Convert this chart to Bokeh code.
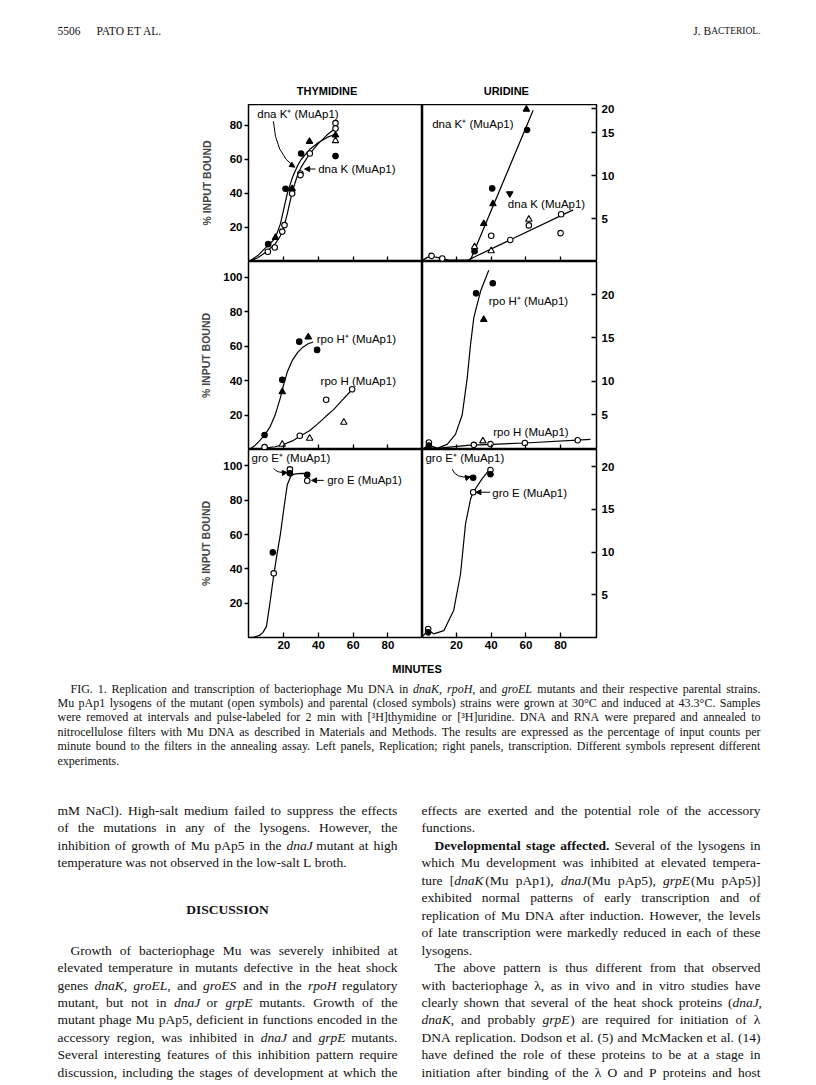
from bokeh.plotting import figure
from bokeh.models import Range1d, FixedTicker, Arrow, NormalHead
from bokeh.layouts import column, row
from bokeh.embed import file_html
from bokeh.resources import INLINE
from bokeh.core.properties import value

SANS = "Liberation Sans"
SERIF = "Liberation Serif"

# ---------------- data ----------------
x_ticks = [20, 40, 60, 80]
left_ticks_top = [20, 40, 60, 80]
left_ticks = [20, 40, 60, 80, 100]
right_labels = ["5", "10", "15", "20"]
right_ticks_top = [5, 10, 15, 17.8]
right_ticks_mid = [4.49, 8.84, 14.45, 20.0]
right_ticks_bot = [5, 10, 15, 20]

# Panel A: thymidine, dnaK
A_fc_x = [11.0, 21.0, 30.0, 49.8]; A_fc_y = [10.2, 42.8, 63.5, 62.0]
A_ft_x = [15.2, 24.8, 34.8, 49.8]; A_ft_y = [14.1, 42.8, 70.6, 74.3]
A_oc_x = [10.8, 14.8, 19.1, 20.4, 24.8, 29.6, 29.6, 35.0, 49.8, 49.8]
A_oc_y = [5.7, 8.2, 17.6, 21.4, 40.0, 51.8, 50.8, 63.5, 81.4, 78.2]
A_ot_x = [49.8]; A_ot_y = [71.0]
A_curve_x = [0, 5, 10, 15, 18, 20, 22, 25, 28, 30, 35, 40, 45, 50]
A_plus_y = [0, 3.5, 8.6, 13.5, 22, 31, 40, 49.5, 56.5, 60, 66, 70, 73, 75]
A_mut_y = [0, 2.2, 5.7, 10.4, 15, 20, 28, 41.6, 51, 55.5, 63.5, 69.5, 74.5, 78.5]

# Panel B: uridine, dnaK
B_fc_x = [30.4, 40.6, 60.7]; B_fc_y = [1.2, 8.5, 15.3]
B_ft_x = [35.7, 41.0, 60.3]; B_ft_y = [4.4, 6.7, 17.7]
B_fi_x = [50.7]; B_fi_y = [7.9]
B_oc_x = [5.6, 11.8, 40.0, 51.0, 61.7, 80.3, 80.0]
B_oc_y = [0.66, 0.35, 3.0, 2.5, 4.2, 5.5, 3.3]
B_ot_x = [30.4, 40.0, 61.7]; B_ot_y = [1.7, 1.24, 4.9]
B_base_x = [0, 3, 5.6, 8, 11.8, 15, 20, 27]
B_base_y = [0.1, 0.45, 0.66, 0.5, 0.33, 0.2, 0.16, 0.16]
B_plus_x = [27, 28.5, 30.4, 64.2]; B_plus_y = [0.16, 0.4, 1.3, 17.6]
B_mut_x = [27, 30, 87.2]; B_mut_y = [0.16, 0.5, 6.0]

# Panel C: thymidine, rpoH
C_fc_x = [8.9, 19.1, 28.9, 39.2]; C_fc_y = [8.4, 40.5, 62.7, 57.9]
C_ft_x = [19.1, 34.1]; C_ft_y = [33.5, 65.4]
C_oc_x = [8.9, 29.2, 44.4, 59.4]; C_oc_y = [1.4, 8.0, 28.9, 35.0]
C_ot_x = [19.1, 34.9, 54.6]; C_ot_y = [3.0, 6.5, 15.8]
C_plus_x = [0, 3, 6, 9, 12, 15, 18, 20, 22, 25, 28, 31, 34, 37]
C_plus_y = [0, 2, 5, 8.5, 13, 20, 30, 38, 45, 52, 56.5, 59.5, 61.5, 62.5]
C_mut_x = [0, 5, 10, 15, 19, 25, 29.6, 35, 39.2, 44, 48.8, 54, 59.4]
C_mut_y = [0, 0.4, 0.9, 1.6, 2.6, 5, 7.8, 11, 14.6, 19, 23.3, 29, 34.9]

# Panel D: uridine, rpoH
D_fc_x = [4.1, 31.3, 40.9]; D_fc_y = [0.5, 20.2, 21.5]
D_ft_x = [35.7]; D_ft_y = [16.8]
D_oc_x = [4.1, 30.0, 39.6, 59.4, 89.9]; D_oc_y = [0.9, 0.6, 0.7, 0.84, 1.2]
D_ot_x = [35.2]; D_ot_y = [1.1]
D_plus_x = [0.2, 4.1, 8.9, 14.6, 19.4, 23.3, 26.2, 28.1, 30, 33.9, 38.6]
D_plus_y = [0.02, 0.54, 0.15, 0.67, 1.96, 4.5, 9.3, 13.6, 17.1, 20.5, 23.2]
D_mut_x = [0.2, 4.1, 8.9, 26.2, 59.4, 97.2]
D_mut_y = [0.02, 0.54, 0.15, 0.54, 0.84, 1.3]

# Panel E: thymidine, groE
E_fc_x = [13.7, 23.5, 33.5]; E_fc_y = [49.6, 95.7, 94.9]
E_oc_x = [14.2, 23.5, 33.5]; E_oc_y = [37.4, 98.0, 91.4]
E_curve_x = [0, 3, 6, 8, 10, 12, 14, 16, 18, 20, 22, 24, 26, 30, 34.5]
E_curve_y = [0, 0.3, 1.2, 3, 6.5, 20, 35, 48, 60, 75, 89, 94, 95.3, 95.7, 95.5]

# Panel F: uridine, groE
F_fc_x = [3.7, 29.6, 39.6]; F_fc_y = [0.6, 18.7, 19.1]
F_oc_x = [3.7, 29.6, 39.6]; F_oc_y = [1.0, 17.0, 19.6]
F_curve_x = [0.2, 3.7, 6.9, 12.7, 18.4, 22.3, 25.2, 28.1, 29.6, 34.8, 39.6]
F_curve_y = [0.1, 0.85, 0.43, 0.8, 3.2, 7.4, 13.3, 16.2, 17.0, 18.6, 19.8]

# ---------------- page texts ----------------
caption_lines = [
    "FIG. 1. Replication and transcription of bacteriophage Mu DNA in _dnaK, _rpoH, and _groEL mutants and their respective parental strains.",
    "Mu pAp1 lysogens of the mutant (open symbols) and parental (closed symbols) strains were grown at 30°C and induced at 43.3°C. Samples",
    "were removed at intervals and pulse-labeled for 2 min with [³H]thymidine or [³H]uridine. DNA and RNA were prepared and annealed to",
    "nitrocellulose filters with Mu DNA as described in Materials and Methods. The results are expressed as the percentage of input counts per",
    "minute bound to the filters in the annealing assay. Left panels, Replication; right panels, transcription. Different symbols represent different",
    "experiments.",
]
left_col = [
    (0, "mM NaCl). High-salt medium failed to suppress the effects", 0, True),
    (1, "of the mutations in any of the lysogens. However, the", 0, True),
    (2, "inhibition of growth of Mu pAp5 in the _dnaJ mutant at high", 0, True),
    (3, "temperature was not observed in the low-salt L broth.", 0, False),
    (8, "Growth of bacteriophage Mu was severely inhibited at", 1, True),
    (9, "elevated temperature in mutants defective in the heat shock", 0, True),
    (10, "genes _dnaK, _groEL, and _groES and in the _rpoH regulatory", 0, True),
    (11, "mutant, but not in _dnaJ or _grpE mutants. Growth of the", 0, True),
    (12, "mutant phage Mu pAp5, deficient in functions encoded in the", 0, True),
    (13, "accessory region, was inhibited in _dnaJ and _grpE mutants.", 0, True),
    (14, "Several interesting features of this inhibition pattern require", 0, True),
    (15, "discussion, including the stages of development at which the", 0, True),
]
right_col = [
    (0, "effects are exerted and the potential role of the accessory", 0, True),
    (1, "functions.", 0, False),
    (2, "^Developmental ^stage ^affected. Several of the lysogens in", 1, True),
    (3, "which Mu development was inhibited at elevated tempera-", 0, True),
    (4, "ture [|_dnaK|(Mu pAp1), _dnaJ|(Mu pAp5), _grpE|(Mu pAp5)]", 0, True),
    (5, "exhibited normal patterns of early transcription and of", 0, True),
    (6, "replication of Mu DNA after induction. However, the levels", 0, True),
    (7, "of late transcription were markedly reduced in each of these", 0, True),
    (8, "lysogens.", 0, False),
    (9, "The above pattern is thus different from that observed", 1, True),
    (10, "with bacteriophage λ, as in vivo and in vitro studies have", 0, True),
    (11, "clearly shown that several of the heat shock proteins (|_dnaJ,", 0, True),
    (12, "_dnaK, and probably _grpE|) are required for initiation of λ", 0, True),
    (13, "DNA replication. Dodson et al. (5) and McMacken et al. (14)", 0, True),
    (14, "have defined the role of these proteins to be at a stage in", 0, True),
    (15, "initiation after binding of the λ O and P proteins and host", 0, True),
]

# Times-like advance widths (per 1000 em) used to justify lines
TW = {}
TW.update(zip(" !\"#$%&'()*+,-./", [250, 333, 408, 500, 500, 833, 778, 333, 333, 333, 500, 564, 250, 333, 250, 278]))
TW.update(zip("0123456789", [500] * 10))
TW.update(zip(":;<=>?@", [278, 278, 564, 564, 564, 444, 921]))
TW.update(zip("ABCDEFGHIJKLMNOPQRSTUVWXYZ", [722, 667, 667, 722, 611, 556, 722, 722, 333, 389, 722, 611, 889, 722, 722, 556, 722, 667, 556, 611, 722, 722, 944, 722, 722, 611]))
TW.update(zip("[\\]^_`", [333, 278, 333, 469, 500, 333]))
TW.update(zip("abcdefghijklmnopqrstuvwxyz", [444, 500, 444, 500, 444, 333, 500, 500, 278, 278, 500, 278, 778, 500, 500, 500, 500, 333, 389, 278, 500, 500, 722, 500, 500, 444]))
TW.update({"°": 400, "³": 300, "λ": 500})


def tw(s, size, style="normal"):
    f = 1.05 if style == "bold" else 1.0
    return sum(TW.get(c, 500) for c in s) * size / 1000.0 * f


def part_adv(parts, k, size):
    s, st = parts[k]
    w = tw(s, size, st)
    if st == "italic" and k + 1 < len(parts) and parts[k + 1][1] != "italic":
        w += 0.12 * size  # italic correction before upright text
    return w


def layout_words(lines, x_left, x_right, y_of, size, indent_px, store):
    for slot, line, ind, justify in lines:
        y = y_of(slot)
        toks = []
        for t in line.split(" "):
            parts = []
            for part in t.split("|"):
                st = "normal"
                if part.startswith("_"):
                    st, part = "italic", part[1:]
                elif part.startswith("^"):
                    st, part = "bold", part[1:]
                if part:
                    parts.append((part, st))
            toks.append(parts)
        widths = [sum(part_adv(parts, k, size) for k in range(len(parts))) for parts in toks]
        x0 = x_left + ind * indent_px
        gap = 0.25 * size
        if justify and len(toks) > 1:
            gap = max((x_right - x0 - sum(widths)) / (len(toks) - 1), 0.12 * size)
        x = x0
        for parts, w in zip(toks, widths):
            xx = x
            for k, (s, st) in enumerate(parts):
                store.setdefault(st, ([], [], []))
                store[st][0].append(xx)
                store[st][1].append(y)
                store[st][2].append(s)
                xx += part_adv(parts, k, size)
            x += w + gap


def draw_store(p, store, size):
    for st, (xs, ys, ts) in store.items():
        p.text(x=xs, y=ys, text=ts, text_font=value(SERIF), text_font_size=value(f"{size}px"),
               text_font_style=st, text_baseline="middle", text_align="left", text_color="#111111")


def canvas(w, h, top):
    p = figure(width=w, height=h, x_range=Range1d(0, w), y_range=Range1d(top + h, top),
               output_backend="svg", toolbar_location=None, x_axis_location=None, y_axis_location=None,
               min_border_left=0, min_border_right=0, min_border_top=0, min_border_bottom=0)
    p.grid.visible = False
    p.outline_line_color = None
    return p


TICK_FS = "11.5px"


def panel(width, height, xr, yr, side, mbl, mbr, mbb, yticks, ylabels, xlabels, als=10):
    p = figure(width=width, height=height, x_range=Range1d(*xr), y_range=Range1d(*yr),
               output_backend="svg", toolbar_location=None, y_axis_location=side,
               min_border_left=mbl, min_border_right=mbr, min_border_top=0, min_border_bottom=mbb)
    p.grid.visible = False
    p.outline_line_color = "black"
    p.outline_line_width = 1.5
    xa = p.xaxis[0]
    xa.ticker = FixedTicker(ticks=x_ticks)
    xa.major_tick_in = 5
    xa.major_tick_out = 0
    xa.minor_tick_line_color = None
    xa.axis_line_color = None
    xa.major_tick_line_width = 1.3
    if xlabels:
        xa.major_label_text_font = SANS
        xa.major_label_text_font_size = TICK_FS
        xa.major_label_text_font_style = "bold"
        xa.major_label_standoff = 3
        xa.major_label_text_color = "black"
    else:
        xa.major_label_text_font_size = "0px"
        xa.major_label_standoff = 0
        xa.major_label_overrides = {t: "" for t in x_ticks}
    ya = p.yaxis[0]
    ya.ticker = FixedTicker(ticks=yticks)
    ya.major_label_overrides = {t: l for t, l in zip(yticks, ylabels)}
    ya.minor_tick_line_color = None
    ya.axis_line_color = None
    ya.major_tick_line_width = 1.3
    ya.major_label_text_font = SANS
    ya.major_label_text_font_size = TICK_FS
    ya.major_label_text_font_style = "bold"
    ya.major_label_text_color = "black"
    if side == "left":
        ya.major_tick_out = 4
        ya.major_tick_in = 0
        ya.major_label_standoff = 2
        ya.axis_label = "% INPUT BOUND"
        ya.axis_label_text_font = SANS
        ya.axis_label_text_font_size = "10.5px"
        ya.axis_label_text_font_style = "bold"
        ya.axis_label_standoff = als
    else:
        ya.major_tick_out = 0
        ya.major_tick_in = 5
        ya.major_label_standoff = 5
    return p


def pts(p, xs, ys, marker, filled, size=5.5):
    p.scatter(xs, ys, marker=marker, size=size, fill_color="black" if filled else "white",
              line_color="black", line_width=1.1)


def crv(p, xs, ys):
    p.line(xs, ys, line_color="black", line_width=1.2)


def lab(p, x, y, t):
    p.text(x=[x], y=[y], text=[t], text_font=value(SANS), text_font_size=value("11.5px"),
           text_baseline="middle", text_align="left", text_color="black")


def arrow(p, xs, ys, xe, ye):
    p.add_layout(Arrow(end=NormalHead(size=5, line_color="black", fill_color="black", line_width=1),
                       x_start=xs, y_start=ys, x_end=xe, y_end=ye, line_color="black", line_width=1))


ML = 248
FRAME_W = 174
LW = ML + FRAME_W          # 422
RW = 800 - LW              # 378
MR = RW - FRAME_W          # 204
xr_l = (-0.35, 99.95)
xr_r = (0.4, 100.7)

# ---- panel A
pA = panel(LW, 157, xr_l, (0, 92.35), "left", ML, 0, 0, left_ticks_top,
           [str(t) for t in left_ticks_top], False, als=14)
crv(pA, A_curve_x, A_plus_y)
crv(pA, A_curve_x, A_mut_y)
pts(pA, A_oc_x, A_oc_y, "circle", False)
pts(pA, A_ot_x, A_ot_y, "triangle", False, 6.5)
pts(pA, A_fc_x, A_fc_y, "circle", True)
pts(pA, A_ft_x, A_ft_y, "triangle", True, 6.5)
lab(pA, 4.7, 86.7, "dna K⁺ (MuAp1)")
lab(pA, 39.8, 54.4, "dna K (MuAp1)")
pA.quadratic(x0=[14.0], y0=[82.5], x1=[26.3], y1=[55.5], cx=[15.2], cy=[63.2], line_color="black", line_width=1)
arrow(pA, 24.1, 57.0, 26.3, 55.5)
arrow(pA, 38.3, 54.4, 32.0, 54.4)

# ---- panel B
pB = panel(RW, 157, xr_r, (0, 18.26), "right", 0, MR, 0, right_ticks_top, right_labels, False)
crv(pB, B_base_x, B_base_y)
crv(pB, B_plus_x, B_plus_y)
crv(pB, B_mut_x, B_mut_y)
pts(pB, B_oc_x, B_oc_y, "circle", False)
pts(pB, B_ot_x, B_ot_y, "triangle", False, 6.5)
pts(pB, B_fc_x, B_fc_y, "circle", True)
pts(pB, B_ft_x, B_ft_y, "triangle", True, 6.5)
pts(pB, B_fi_x, B_fi_y, "inverted_triangle", True, 6.5)
lab(pB, 6.0, 16.0, "dna K⁺ (MuAp1)")
lab(pB, 49.6, 6.7, "dna K (MuAp1)")

# ---- panel C
pC = panel(LW, 188, xr_l, (0, 109.3), "left", ML, 0, 0, left_ticks,
           [str(t) for t in left_ticks], False, als=8)
crv(pC, C_plus_x, C_plus_y)
crv(pC, C_mut_x, C_mut_y)
pts(pC, C_oc_x, C_oc_y, "circle", False)
pts(pC, C_ot_x, C_ot_y, "triangle", False, 6.5)
pts(pC, C_fc_x, C_fc_y, "circle", True)
pts(pC, C_ft_x, C_ft_y, "triangle", True, 6.5)
lab(pC, 39.0, 64.5, "rpo H⁺ (MuAp1)")
lab(pC, 41.2, 40.1, "rpo H (MuAp1)")

# ---- panel D
pD = panel(RW, 188, xr_r, (0, 24.32), "right", 0, MR, 0, right_ticks_mid, right_labels, False)
crv(pD, D_plus_x, D_plus_y)
crv(pD, D_mut_x, D_mut_y)
pts(pD, D_oc_x, D_oc_y, "circle", False)
pts(pD, D_ot_x, D_ot_y, "triangle", False, 6.5)
pts(pD, D_fc_x, D_fc_y, "circle", True)
pts(pD, D_ft_x, D_ft_y, "triangle", True, 6.5)
lab(pD, 38.6, 19.2, "rpo H⁺ (MuAp1)")
lab(pD, 41.2, 2.3, "rpo H (MuAp1)")

# ---- panel E
pE = panel(LW, 210, xr_l, (0, 109.6), "left", ML, 0, 22, left_ticks,
           [str(t) for t in left_ticks], True, als=8)
crv(pE, E_curve_x, E_curve_y)
pts(pE, E_oc_x, E_oc_y, "circle", False)
pts(pE, E_fc_x, E_fc_y, "circle", True)
lab(pE, 1.4, 104.4, "gro E⁺ (MuAp1)")
lab(pE, 45.0, 91.8, "gro E (MuAp1)")
pE.quadratic(x0=[14.2], y0=[98.6], x1=[22.0], y1=[96.2], cx=[15.8], cy=[95.8], line_color="black", line_width=1)
arrow(pE, 20.0, 96.0, 22.0, 96.2)
arrow(pE, 43.0, 91.6, 36.0, 91.6)

# ---- panel F
pF = panel(RW, 210, xr_r, (0, 22.0), "right", 0, MR, 22, right_ticks_bot, right_labels, True)
crv(pF, F_curve_x, F_curve_y)
pts(pF, F_oc_x, F_oc_y, "circle", False)
pts(pF, F_fc_x, F_fc_y, "circle", True)
lab(pF, 2.1, 21.0, "gro E⁺ (MuAp1)")
lab(pF, 40.6, 16.9, "gro E (MuAp1)")
pF.quadratic(x0=[17.5], y0=[19.7], x1=[28.0], y1=[18.8], cx=[19.4], cy=[18.6], line_color="black", line_width=1)
arrow(pF, 26.0, 18.7, 28.0, 18.8)
arrow(pF, 39.4, 17.0, 31.2, 17.0)

# ---- header
HEAD_FS = 11.5
head = canvas(800, 104, 0)
head.text(x=[57, 96], y=[30, 30], text=["5506", "PATO ET AL."], text_font=value(SERIF),
          text_font_size=value(f"{HEAD_FS}px"), text_baseline="middle", text_align="left", text_color="#111111")
head.text(x=[760], y=[30.5], text=["ACTERIOL."], text_font=value(SERIF), text_font_size=value("9.5px"),
          text_baseline="middle", text_align="right", text_color="#111111")
head.text(x=[760 - tw("ACTERIOL.", 9.5)], y=[30], text=["J. B"], text_font=value(SERIF),
          text_font_size=value(f"{HEAD_FS}px"), text_baseline="middle", text_align="right", text_color="#111111")
head.text(x=[326.5, 505.8], y=[90.7, 90.7], text=["THYMIDINE", "URIDINE"], text_font=value(SANS),
          text_font_size=value("11px"), text_font_style="bold", text_baseline="middle",
          text_align="center", text_color="black")

# ---- caption and body text
CAP_TOP = 659
cap = canvas(800, 1083 - CAP_TOP, CAP_TOP)
cap.text(x=[416.5], y=[668], text=["MINUTES"], text_font=value(SANS), text_font_size=value("11px"),
         text_font_style="bold", text_baseline="middle", text_align="center", text_color="black")
CAP_FS = 12
store = {}
cap_lines = [(i, t, 1 if i == 0 else 0, i < len(caption_lines) - 1) for i, t in enumerate(caption_lines)]
layout_words(cap_lines, 57, 760, lambda s: 688 + 14.4 * s, CAP_FS, 13, store)
draw_store(cap, store, CAP_FS)

BODY_Y0, BODY_DY, BODY_FS = 810, 17.45, 13.5
store = {}
layout_words(left_col, 57, 397, lambda s: BODY_Y0 + BODY_DY * s, BODY_FS, 13, store)
layout_words(right_col, 421, 760, lambda s: BODY_Y0 + BODY_DY * s, BODY_FS, 13, store)
draw_store(cap, store, BODY_FS)
cap.text(x=[227], y=[BODY_Y0 + BODY_DY * 5.7], text=["DISCUSSION"], text_font=value(SERIF),
         text_font_size=value(f"{BODY_FS}px"), text_font_style="bold", text_baseline="middle",
         text_align="center", text_color="#111111")

layout = column(head, row(column(pA, pC, pE), column(pB, pD, pF)), cap)
open("out.html", "w").write(file_html(layout, INLINE))
